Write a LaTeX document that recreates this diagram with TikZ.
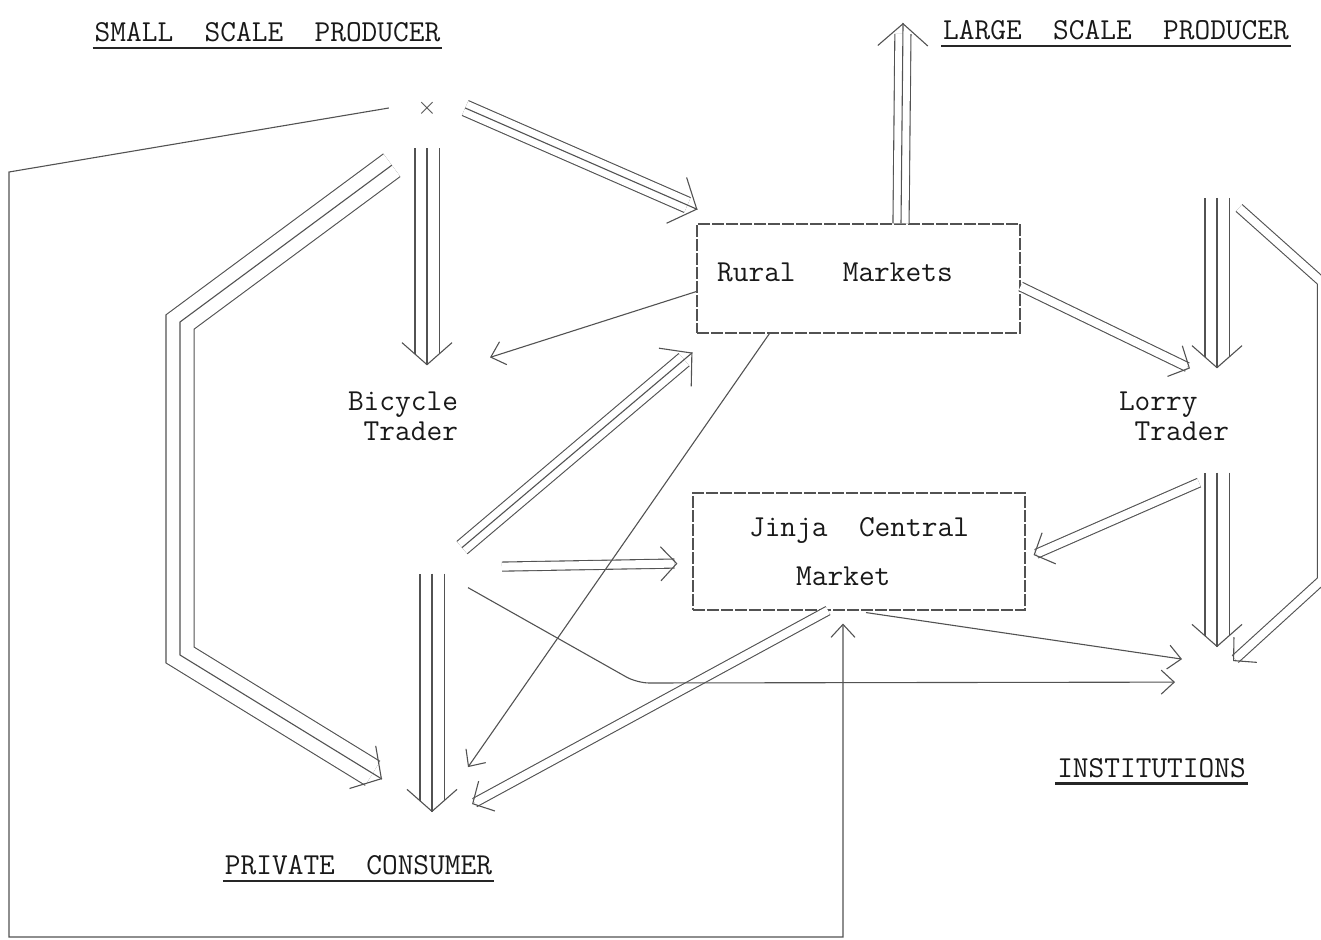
\documentclass[tikz,border=0pt]{standalone}
\usepackage{fontspec}
\usepackage{tikz}
\usetikzlibrary{positioning,arrows.meta,decorations.markings}
\colorlet{ink}{black!68}
\tikzset{
  headlen/.store in=\headlen, headwid/.store in=\headwid,
  headlen=16pt, headwid=34pt,
  thinarrow/.style={draw=ink, line width=1.1pt, -{Straight Barb[length=13pt, width=24pt]}},
  twoflow/.style={draw=ink, line width=1.1pt, double=white, double distance=8pt, shorten >=3pt,
    postaction={decorate, decoration={markings, mark=at position 1 with {\arrow[ink, line width=1.1pt]{Straight Barb[length=\headlen, width=\headwid]}}}}},
  threeflow/.style={twoflow, double distance=23pt, shorten >=11pt, headlen=22pt, headwid=50pt,
    postaction={draw=ink, line width=1.1pt, shorten >=0pt}},
  marketbox/.style={draw=ink, line width=1.1pt, dash pattern=on 12pt off 2pt, inner sep=0pt, align=left},
  tradernode/.style={align=left, inner sep=0pt},
  headnode/.style={inner xsep=2pt, inner ysep=6pt,
    append after command={(\tikzlastnode.south west) edge[draw=black!85, line width=2.8pt] (\tikzlastnode.south east)}}
}

\begin{document}
\begin{tikzpicture}[x=1pt, y=-1pt, every node/.style={font=\ttfamily\fontsize{30.5}{30}\selectfont, text=black!90}]
  \path[use as bounding box] (0,0) rectangle (1321,939);
  \clip (0,0) rectangle (1321,939);
  % producers, traders, markets, consumers
  \node[headnode] (ssp) at (267.5,32) {SMALL\ \ SCALE\ \ PRODUCER};
  \node[headnode] (lsp) at (1116,30) {LARGE\ \ SCALE\ \ PRODUCER};
  \node[headnode] (pc) at (358.5,865) {PRIVATE\ \ CONSUMER};
  \node[headnode] (inst) at (1151.5,768) {INSTITUTIONS};
  \node[inner sep=0pt, minimum width=76pt, minimum height=80pt, text=black!70] (src) at (427,108) {$\times$};
  \node[marketbox, minimum width=323pt, minimum height=109pt, text depth=13pt] (rural) at (858.5,278.5) {Rural\ \ \ Markets\hphantom{xxx}};
  \node[marketbox, minimum width=332pt, minimum height=117pt] (jinja) at (859,551.5) {Jinja\ \ Central\\[19pt]\hphantom{Jin}Market};
  \node[tradernode] (bicycle) at (403,416) {Bicycle\\\hphantom{B}Trader};
  \node[tradernode] (lorry) at (1174,416) {Lorry\\\hphantom{L}Trader};

  % main flows
  \draw[threeflow] (src.south) -- ([shift={(24,-26)}]bicycle.north);
  \draw[threeflow, double distance=15pt] (src.east) -- ([shift={(1,-14)}]rural.north west);
  \draw[threeflow, double distance=27pt] ([shift={(3,17)}]src.south west) -- (180,322) -- (180,655) -- ([shift={(23.5,-70)}]pc.north);
  \draw[threeflow] ([shift={(29,133)}]bicycle.south) -- ([shift={(73.5,-37)}]pc.north);
  \draw[threeflow, double distance=15pt] ([shift={(59,107)}]bicycle.south) -- ([shift={(-4,19)}]rural.south west);
  \draw[twoflow] ([shift={(99,126)}]bicycle.south) -- ([shift={(-15,12)}]jinja.west);
  \draw[threeflow, double distance=15pt] ([shift={(42.5,0)}]rural.north) -- ([shift={(-38,-7)}]lsp.west);
  \draw[twoflow] ([shift={(0,8)}]rural.east) -- ([shift={(16,-23)}]lorry.north);
  \draw[threeflow] ([shift={(101,152)}]lsp.south) -- ([shift={(43,-23)}]lorry.north);
  \draw[twoflow] ([shift={(123,162)}]lsp.south) -- (1322,282) -- (1322,580) -- ([shift={(81.5,-91)}]inst.north);
  \draw[twoflow] ([shift={(25,42)}]lorry.south) -- ([shift={(8,3.5)}]jinja.east);
  \draw[threeflow] ([shift={(43,32)}]lorry.south) -- ([shift={(65.5,-105)}]inst.north);
  \draw[twoflow] ([shift={(-31,0)}]jinja.south) -- ([shift={(113.5,-45)}]pc.north);

  % minor flows
  \draw[thinarrow] (src.west) -- (9,172) -- (9,937) -| ([shift={(-16,13)}]jinja.south);
  \draw[thinarrow] ([shift={(0,13)}]rural.west) -- ([shift={(87,-34)}]bicycle.north);
  \draw[thinarrow] ([shift={(73,0)}]rural.south west) -- ([shift={(109.5,-82)}]pc.north);
  \draw[thinarrow, rounded corners=12pt] ([shift={(65,147)}]bicycle.south) -- (637,683) -- ([shift={(23.5,-70)}]inst.north);
  \draw[thinarrow] ([shift={(7,2)}]jinja.south) -- ([shift={(30.5,-93)}]inst.north);
\end{tikzpicture}
\end{document}
